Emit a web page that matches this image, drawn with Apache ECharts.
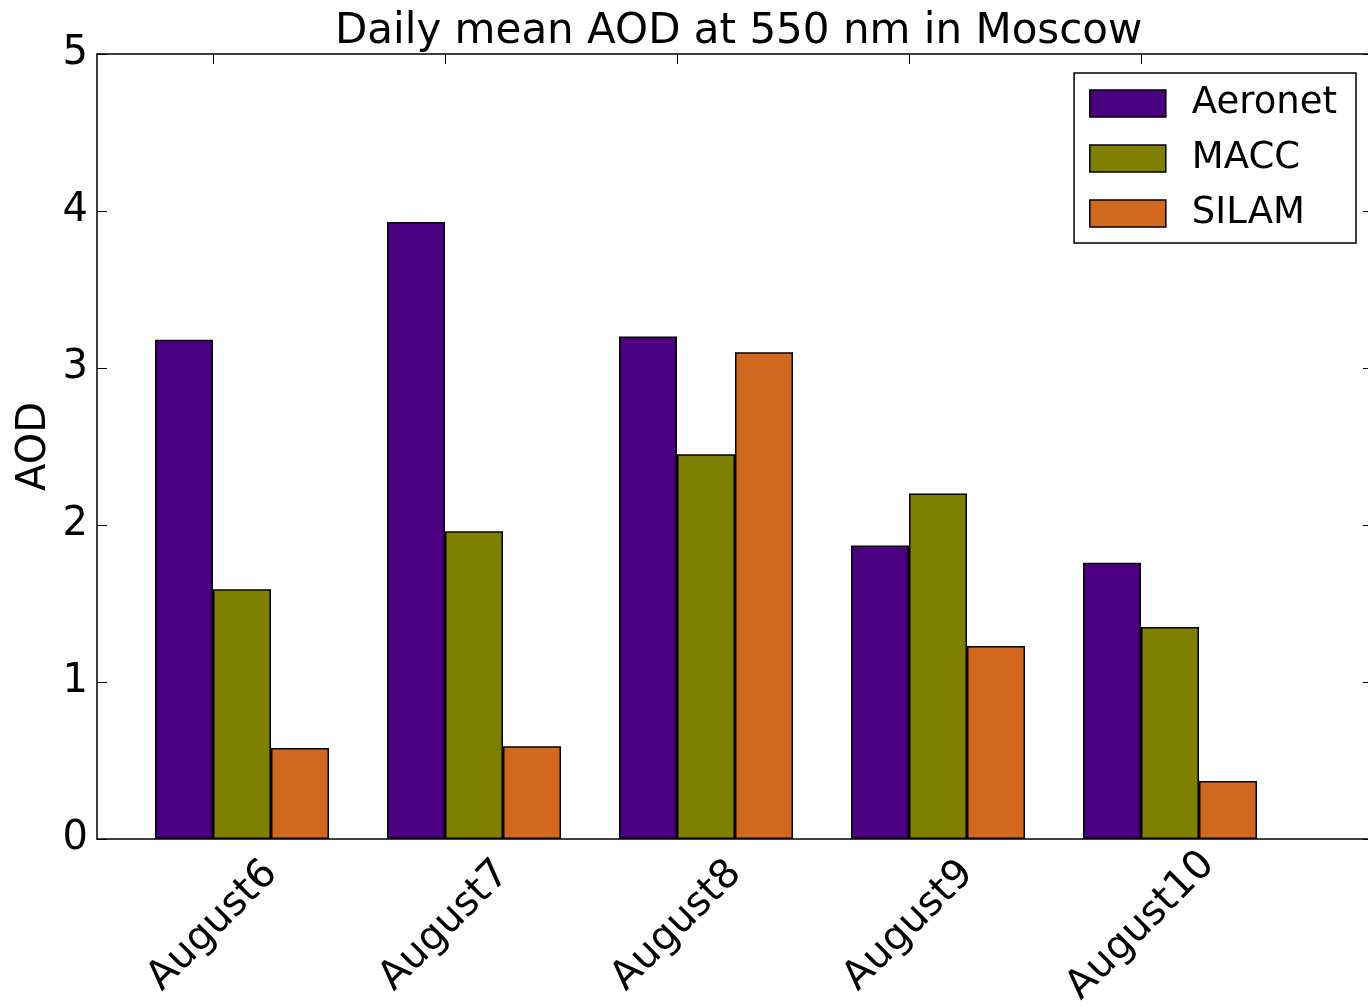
<!DOCTYPE html>
<html>
<head>
<meta charset="utf-8">
<script src="https://cdn.jsdelivr.net/npm/echarts@6/dist/echarts.min.js"></script>
<style>
  html, body { margin: 0; padding: 0; background: #fff; }
  #chart { width: 1368px; height: 1008px; }
</style>
</head>
<body>
<div id="chart"></div>
<script>
// data
var days = ['August6', 'August7', 'August8', 'August9', 'August10'];
var aeronet = [3.18, 3.93, 3.20, 1.87, 1.76];
var macc = [1.59, 1.96, 2.45, 2.20, 1.35];
var silam = [0.58, 0.59, 3.10, 1.23, 0.37];
var yTicks = [0, 1, 2, 3, 4, 5];

// x axis in quarter steps, like the matplotlib bar positions (width 0.25)
var tickPos = days.map(function (d, i) { return 4 * i + 2; });
function pts(vals, off) {
  return vals.map(function (v, i) { return [4 * i + off, v]; });
}

var font = 'DejaVu Sans';
var chart = echarts.init(document.getElementById('chart'));

var option = {
  backgroundColor: '#fff',
  animation: false,
  title: {
    text: 'Daily mean AOD at 550 nm in Moscow',
    left: 335,
    top: 11,
    padding: 0,
    textStyle: { fontFamily: font, fontSize: 42, fontWeight: 'normal', color: '#000' }
  },
  legend: {
    orient: 'vertical',
    right: 12,
    top: 73,
    padding: [12, 19, 11, 15],
    itemGap: 18,
    itemWidth: 76,
    itemHeight: 27,
    icon: 'rect',
    borderColor: '#000',
    borderWidth: 1.5,
    borderRadius: 0,
    backgroundColor: '#fff',
    itemStyle: { borderColor: '#000', borderWidth: 1.5 },
    textStyle: { fontFamily: font, fontSize: 37, color: '#000', lineHeight: 36, padding: [0, 0, 0, 21] },
    data: ['Aeronet', 'MACC', 'SILAM']
  },
  // plot frame runs just past the right edge of the canvas, as in the original
  grid: { left: 97, right: -5, top: 54, bottom: 169, containLabel: false, outerBoundsMode: 'none' },
  xAxis: [
    {
      type: 'value',
      min: 0,
      max: 22,
      position: 'bottom',
      splitLine: { show: false },
      axisLine: { show: true, onZero: false, lineStyle: { color: '#000', width: 1.5 } },
      axisTick: { show: true, inside: true, length: 10, customValues: tickPos, lineStyle: { color: '#000' } },
      axisLabel: {
        customValues: tickPos,
        rotate: 45,
        align: 'center',
        verticalAlign: 'middle',
        margin: 87,
        fontFamily: font,
        fontSize: 40,
        color: '#000',
        formatter: function (v) { return days[Math.round((v - 2) / 4)]; }
      }
    },
    {
      type: 'value',
      min: 0,
      max: 22,
      position: 'top',
      splitLine: { show: false },
      axisLine: { show: true, onZero: false, lineStyle: { color: '#000', width: 1.5 } },
      axisTick: { show: true, inside: true, length: 10, customValues: tickPos, lineStyle: { color: '#000' } },
      axisLabel: { show: false }
    }
  ],
  yAxis: [
    {
      type: 'value',
      min: yTicks[0],
      max: yTicks[yTicks.length - 1],
      interval: 1,
      position: 'left',
      name: 'AOD',
      nameLocation: 'middle',
      nameRotate: 90,
      nameGap: 42,
      nameMoveOverlap: false,
      nameTextStyle: { fontFamily: font, fontSize: 40, color: '#000' },
      splitLine: { show: false },
      axisLine: { show: true, onZero: false, lineStyle: { color: '#000', width: 1.5 } },
      axisTick: { show: true, inside: true, length: 10, lineStyle: { color: '#000' } },
      axisLabel: { margin: 9, fontFamily: font, fontSize: 40, color: '#000' }
    },
    {
      type: 'value',
      min: yTicks[0],
      max: yTicks[yTicks.length - 1],
      interval: 1,
      position: 'right',
      splitLine: { show: false },
      axisLine: { show: true, onZero: false, lineStyle: { color: '#000', width: 1.5 } },
      axisTick: { show: true, inside: true, length: 10, lineStyle: { color: '#000' } },
      axisLabel: { show: false }
    }
  ],
  series: [
    {
      name: 'Aeronet', type: 'bar', xAxisIndex: 0, yAxisIndex: 0,
      barWidth: 58, barGap: '-100%',
      itemStyle: { color: '#4B0082', borderColor: '#000', borderWidth: 1.5 },
      data: pts(aeronet, 1.5)
    },
    {
      name: 'MACC', type: 'bar', xAxisIndex: 0, yAxisIndex: 0,
      barWidth: 58, barGap: '-100%',
      itemStyle: { color: '#808000', borderColor: '#000', borderWidth: 1.5 },
      data: pts(macc, 2.5)
    },
    {
      name: 'SILAM', type: 'bar', xAxisIndex: 0, yAxisIndex: 0,
      barWidth: 58, barGap: '-100%',
      itemStyle: { color: '#D2691E', borderColor: '#000', borderWidth: 1.5 },
      data: pts(silam, 3.5)
    }
  ]
};

chart.setOption(option);
</script>
</body>
</html>
